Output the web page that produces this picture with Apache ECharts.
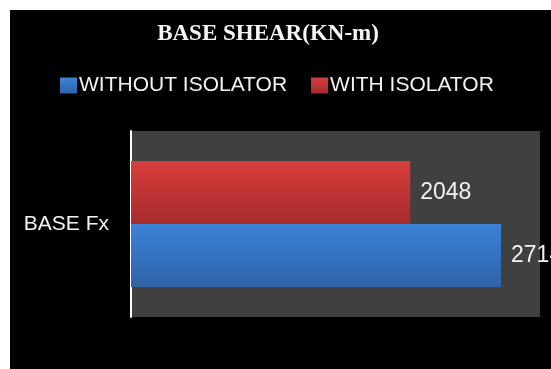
<!DOCTYPE html>
<html>
<head>
<meta charset="utf-8">
<script src="https://cdn.jsdelivr.net/npm/echarts@6/dist/echarts.min.js"></script>
<style>
  html, body { margin: 0; padding: 0; background: #ffffff; }
  #chart { width: 551px; height: 369px; }
</style>
</head>
<body>
<div id="chart"></div>
<script>
// Base shear comparison, with and without base isolation
const categories = ['BASE Fx'];
const seriesNames = ['WITHOUT ISOLATOR', 'WITH ISOLATOR'];
const withoutIsolator = [2714];
const withIsolator = [2048];

const chart = echarts.init(document.getElementById('chart'));

function vGrad(top, bottom) {
  return new echarts.graphic.LinearGradient(0, 0, 0, 1, [
    { offset: 0, color: top },
    { offset: 1, color: bottom }
  ]);
}

const labelStyle = {
  show: true,
  position: 'right',
  distance: 10,
  color: '#f2f2f2',
  fontFamily: 'Liberation Sans, Arial, sans-serif',
  fontSize: 23
};

chart.setOption({
  backgroundColor: '#ffffff',
  animation: false,
  graphic: [{
    type: 'rect',
    z: -10,
    shape: { x: 10, y: 10, width: 541, height: 359 },
    style: { fill: '#000000' },
    silent: true
  }],
  title: {
    text: 'BASE SHEAR(KN-m)',
    left: 263,
    textAlign: 'center',
    top: 18,
    textStyle: {
      color: '#f5f5f5',
      fontFamily: 'Liberation Serif, Times New Roman, serif',
      fontWeight: 'bold',
      fontSize: 23
    }
  },
  legend: {
    data: seriesNames,
    top: 70,
    left: 55,
    itemWidth: 17,
    itemHeight: 16,
    itemGap: 24,
    icon: 'rect',
    textStyle: {
      color: '#f2f2f2',
      fontFamily: 'Liberation Sans, Arial, sans-serif',
      fontSize: 21,
      padding: [0, 0, 0, -3]
    }
  },
  grid: {
    left: 131,
    right: 11,
    top: 131,
    bottom: 52,
    show: true,
    backgroundColor: '#404040',
    borderWidth: 0
  },
  xAxis: {
    type: 'value',
    min: 0,
    max: 3000,
    show: false,
    splitLine: { show: false }
  },
  yAxis: {
    type: 'category',
    data: categories,
    axisLine: { show: true, lineStyle: { color: '#ffffff', width: 2 } },
    axisTick: { show: false },
    axisLabel: {
      color: '#f2f2f2',
      fontFamily: 'Liberation Sans, Arial, sans-serif',
      fontSize: 21,
      margin: 22
    }
  },
  // the bar listed first sits at the top of the category band
  series: [
    {
      name: seriesNames[1],
      type: 'bar',
      data: withIsolator,
      barWidth: 63,
      barGap: '0%',
      itemStyle: { color: vGrad('#d83d3d', '#a62b2b') },
      label: labelStyle
    },
    {
      name: seriesNames[0],
      type: 'bar',
      data: withoutIsolator,
      barWidth: 63,
      barGap: '0%',
      itemStyle: { color: vGrad('#3b82d8', '#2e63a6') },
      label: labelStyle
    }
  ]
});
</script>
</body>
</html>
